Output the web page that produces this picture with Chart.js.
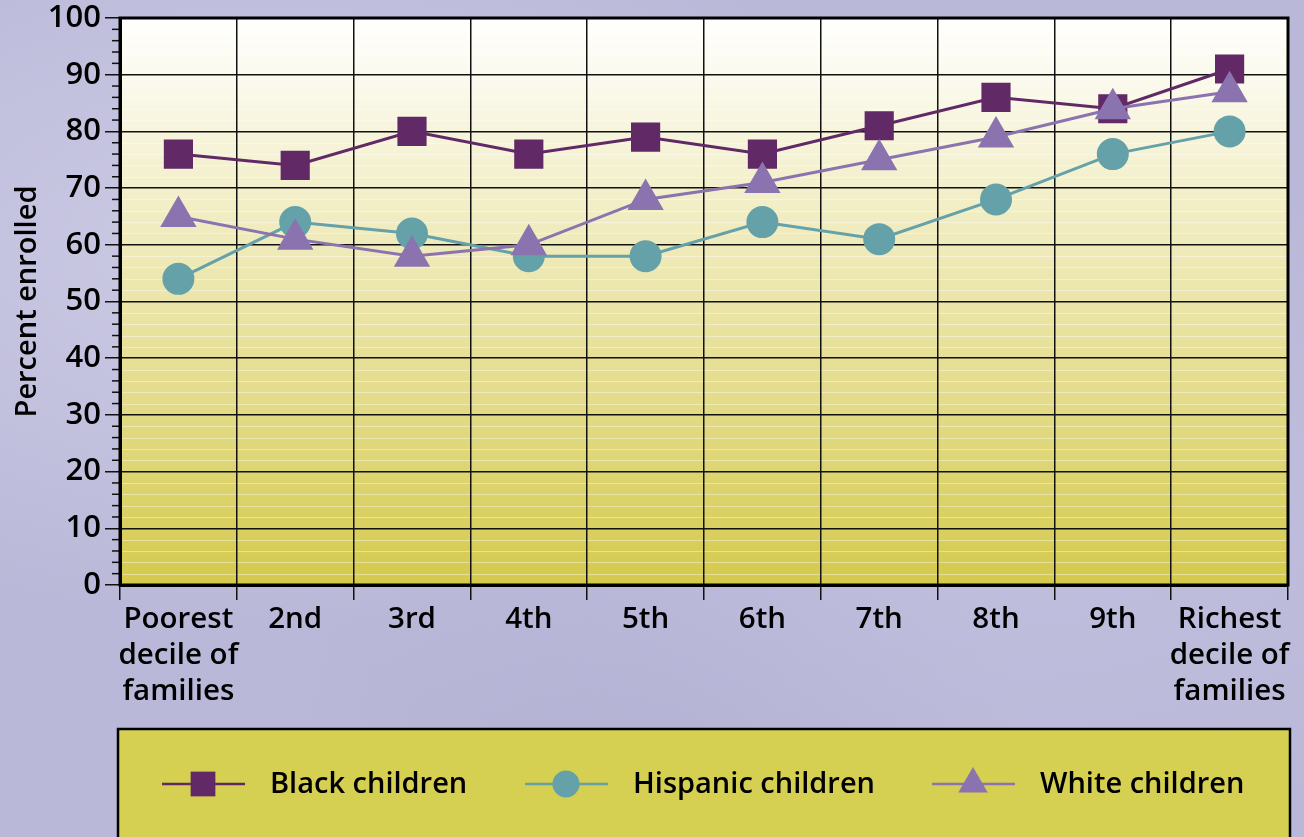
<!DOCTYPE html>
<html>
<head>
<meta charset="utf-8">
<script src="https://cdn.jsdelivr.net/npm/chart.js@4/dist/chart.umd.min.js"></script>
<style>
  html, body { margin: 0; padding: 0; }
  body {
    width: 1304px; height: 837px; overflow: hidden;
    background:
      radial-gradient(ellipse at 20% 30%, rgba(220,218,238,0.55), rgba(220,218,238,0) 45%),
      radial-gradient(ellipse at 75% 60%, rgba(200,198,228,0.5), rgba(200,198,228,0) 50%),
      radial-gradient(ellipse at 50% 95%, rgba(170,168,205,0.5), rgba(170,168,205,0) 40%),
      #b9b8d8;
  }
  #wrap { position: relative; width: 1304px; height: 837px; }
  canvas { display: block; }
</style>
</head>
<body>
<div id="wrap"><canvas id="enrolled" width="1304" height="837"></canvas></div>
<script>
const deciles = [
  ['Poorest', 'decile of', 'families'],
  '2nd', '3rd', '4th', '5th', '6th', '7th', '8th', '9th',
  ['Richest', 'decile of', 'families']
];
const blackChildren    = [76, 74, 80, 76, 79, 76, 81, 86, 84, 91];
const hispanicChildren = [54, 64, 62, 58, 58, 64, 61, 68, 76, 80];
const whiteChildren    = [65, 61, 58, 60, 68, 71, 75, 79, 84, 87];

const FONT = '"Open Sans", "DejaVu Sans", sans-serif';

// yellow gradient behind the plot, faint minor lines, minor ticks, heavy frame
const plotDecor = {
  id: 'plotDecor',
  beforeDraw(chart) {
    const {ctx, chartArea: a} = chart;
    const y = chart.scales.y;
    const g = ctx.createLinearGradient(0, a.top, 0, a.bottom);
    g.addColorStop(0, '#ffffff');
    g.addColorStop(0.5, '#ebe5a9');
    g.addColorStop(1, '#d4ca4d');
    ctx.save();
    ctx.fillStyle = g;
    ctx.fillRect(a.left, a.top, a.right - a.left, a.bottom - a.top);
    ctx.strokeStyle = 'rgba(255,255,255,0.4)';
    ctx.lineWidth = 1;
    y.ticks.forEach(t => {
      if (t.value % 10 === 0) return;
      const py = Math.round(y.getPixelForValue(t.value)) + 0.5;
      ctx.beginPath();
      ctx.moveTo(a.left, py);
      ctx.lineTo(a.right, py);
      ctx.stroke();
    });
    ctx.restore();
  },
  afterDraw(chart) {
    const {ctx, chartArea: a} = chart;
    const y = chart.scales.y;
    ctx.save();
    ctx.strokeStyle = '#111';
    ctx.lineWidth = 1.5;
    y.ticks.forEach(t => {
      if (t.value % 10 === 0) return;
      const py = y.getPixelForValue(t.value);
      ctx.beginPath();
      ctx.moveTo(a.left - 8, py);
      ctx.lineTo(a.left, py);
      ctx.stroke();
    });
    ctx.lineWidth = 3;
    ctx.strokeStyle = '#000';
    ctx.strokeRect(a.left, a.top, a.right - a.left, a.bottom - a.top);
    ctx.restore();
  }
};

// boxed legend below the chart
const boxLegend = {
  id: 'boxLegend',
  afterDraw(chart) {
    const ctx = chart.ctx;
    const lineX = [162, 525, 932];
    const cy = 784;
    ctx.save();
    ctx.fillStyle = '#d5cf52';
    ctx.fillRect(118, 729, 1172, 120);
    ctx.lineWidth = 2.5;
    ctx.strokeStyle = '#000';
    ctx.strokeRect(118, 729, 1172, 120);
    chart.data.datasets.forEach((ds, i) => {
      const x0 = lineX[i];
      ctx.strokeStyle = ds.borderColor;
      ctx.lineWidth = 2.5;
      ctx.beginPath();
      ctx.moveTo(x0, cy);
      ctx.lineTo(x0 + 83, cy);
      ctx.stroke();
      ctx.fillStyle = ds.pointBackgroundColor;
      ctx.strokeStyle = ds.pointBackgroundColor;
      Chart.helpers.drawPoint(ctx, {pointStyle: ds.pointStyle, radius: ds.pointRadius - 1, borderWidth: 0, rotation: 0}, x0 + 41, cy);
      ctx.fillStyle = '#000';
      ctx.font = '600 29px ' + FONT;
      ctx.textBaseline = 'middle';
      ctx.fillText(ds.label, x0 + 108, cy + 1);
    });
    ctx.restore();
  }
};

const noPad = () => ({ left: 0, top: 0, right: 0, bottom: 0 });

new Chart(document.getElementById('enrolled'), {
  type: 'line',
  data: {
    labels: deciles,
    datasets: [
      {
        label: 'Black children',
        data: blackChildren,
        borderColor: '#612a66',
        pointBackgroundColor: '#612a66',
        pointBorderColor: '#612a66',
        pointStyle: 'rect',
        pointRadius: 18.5,
        borderWidth: 3,
        order: 3
      },
      {
        label: 'Hispanic children',
        data: hispanicChildren,
        borderColor: '#64a1a9',
        pointBackgroundColor: '#64a1a9',
        pointBorderColor: '#64a1a9',
        pointStyle: 'circle',
        pointRadius: 14.5,
        borderWidth: 3,
        order: 2
      },
      {
        label: 'White children',
        data: whiteChildren,
        borderColor: '#8b73af',
        pointBackgroundColor: '#8b73af',
        pointBorderColor: '#8b73af',
        pointStyle: 'triangle',
        pointRadius: 18,
        borderWidth: 3,
        order: 1
      }
    ]
  },
  plugins: [plotDecor, boxLegend],
  options: {
    responsive: false,
    animation: false,
    devicePixelRatio: 1,
    layout: { autoPadding: false, padding: { top: 18, right: 16, left: 0, bottom: 0 } },
    elements: { line: { tension: 0 }, point: { borderWidth: 0, hoverRadius: 18 } },
    plugins: {
      legend: { display: false },
      tooltip: { enabled: false }
    },
    scales: {
      x: {
        offset: true,
        afterFit(s) { s.height = 252; s.getPadding = noPad; },
        grid: {
          offset: true,
          color: '#111',
          lineWidth: 1.5,
          tickLength: 15,
          tickColor: '#111'
        },
        border: { color: '#000', width: 3 },
        ticks: {
          color: '#000',
          padding: 2,
          maxRotation: 0,
          autoSkip: false,
          font: { family: FONT, size: 29.5, weight: '600', lineHeight: 1.22 }
        }
      },
      y: {
        min: 0,
        max: 100,
        afterFit(s) { s.width = 120; s.getPadding = noPad; },
        title: {
          display: true,
          text: 'Percent enrolled',
          color: '#000',
          padding: { top: 10, bottom: 0 },
          font: { family: FONT, size: 29, weight: '600' }
        },
        grid: {
          color: c => c.tick.value % 10 === 0 ? '#111' : 'rgba(0,0,0,0)',
          lineWidth: 1.5,
          tickLength: 15,
          tickColor: c => c.tick.value % 10 === 0 ? '#111' : 'rgba(0,0,0,0)',
          tickWidth: 1.5
        },
        border: { color: '#000', width: 3 },
        ticks: {
          stepSize: 2,
          autoSkip: false,
          color: '#000',
          padding: 4,
          font: { family: FONT, size: 31, weight: '600' },
          callback: v => v % 10 === 0 ? v : ''
        }
      }
    }
  }
});
</script>
</body>
</html>
